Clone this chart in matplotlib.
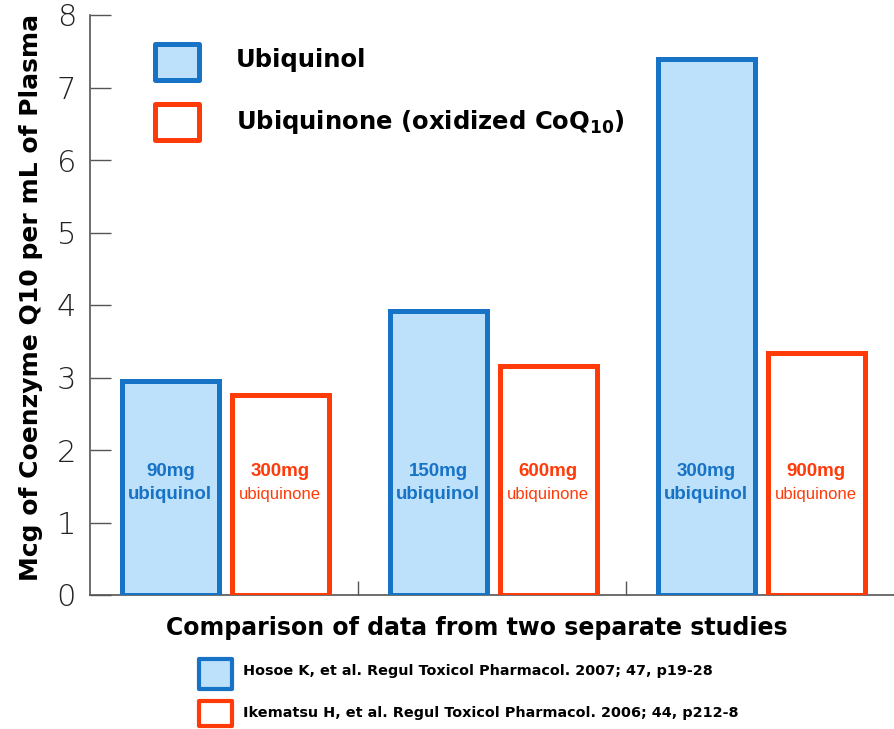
import matplotlib
matplotlib.use("Agg")
import matplotlib.pyplot as plt
from matplotlib.patches import Rectangle

# data
studies = ["Study 1", "Study 2", "Study 3"]
ubiquinol = [2.95, 3.92, 7.39]
ubiquinone = [2.76, 3.16, 3.34]
ubiquinol_dose = ["90mg", "150mg", "300mg"]
ubiquinone_dose = ["300mg", "600mg", "900mg"]
y_ticks = [0, 1, 2, 3, 4, 5, 6, 7, 8]

BLUE = "#1673c6"
BLUE_FILL = "#bde0fb"
RED = "#ff3b0a"

fig = plt.figure(figsize=(8.94, 7.29), dpi=100)
ax = fig.add_axes([90 / 894, 134 / 729, 804 / 894, 580 / 729])

x = list(range(len(studies)))
w = 0.36
x1 = [i + 0.30 for i in x]
x2 = [i + 0.71 for i in x]
ax.bar(x1, ubiquinol, width=w, color=BLUE_FILL, edgecolor=BLUE, linewidth=3.6,
       zorder=3, label="Ubiquinol")
ax.bar(x2, ubiquinone, width=w, color="white", edgecolor=RED, linewidth=3.6,
       zorder=3, label="Ubiquinone")

narrow = ["Liberation Sans", "DejaVu Sans"]
for xi, d in zip(x1, ubiquinol_dose):
    ax.text(xi, 1.70, d, ha="center", va="center", color=BLUE, fontsize=13.5,
            fontweight="bold", family=narrow)
    ax.text(xi, 1.38, "ubiquinol", ha="center", va="center", color=BLUE,
            fontsize=13.5, fontweight="bold", family=narrow)
for xi, d in zip(x2, ubiquinone_dose):
    ax.text(xi, 1.70, d, ha="center", va="center", color=RED, fontsize=13.5,
            fontweight="bold", family=narrow)
    ax.text(xi, 1.38, "ubiquinone", ha="center", va="center", color=RED,
            fontsize=12, family=narrow)

ax.set_xlim(0, 3)
ax.set_ylim(0, 8)
ax.set_yticks(y_ticks)
ax.set_yticklabels([str(t) for t in y_ticks], fontsize=22, family="DejaVu Sans",
                   fontweight="light", color="#222222")
ax.set_xticks([1, 2])
ax.set_xticklabels([])
ax.tick_params(axis="y", direction="in", length=15, width=1, color="#555555", pad=10)
ax.tick_params(axis="x", direction="in", length=10, width=1, color="#555555")
for s in ["top", "right"]:
    ax.spines[s].set_visible(False)
for s in ["left", "bottom"]:
    ax.spines[s].set_color("#555555")
    ax.spines[s].set_linewidth(1.2)

ax.set_ylabel("Mcg of Coenzyme Q10 per mL of Plasma", fontsize=18,
              fontweight="bold")
ax.yaxis.set_label_coords(-0.058, 0.513)
ax.set_xlabel("Comparison of data from two separate studies", fontsize=17,
              fontweight="bold")
ax.xaxis.set_label_coords(0.481, -0.037)
ax.xaxis.label.set_va("top")

# top legend
def box(x0, y0, wpx, hpx, fc, ec, lw):
    fig.add_artist(Rectangle((x0 / 894, 1 - (y0 + hpx) / 729), wpx / 894, hpx / 729,
                             transform=fig.transFigure, facecolor=fc, edgecolor=ec,
                             linewidth=lw, joinstyle="round", zorder=5))

box(155, 44, 44, 36, BLUE_FILL, BLUE, 3.6)
box(155, 104, 44, 36, "white", RED, 3.6)
fig.text(236 / 894, 1 - 60 / 729, "Ubiquinol", fontsize=17.5, fontweight="bold",
         va="center")
fig.text(236 / 894, 1 - 122 / 729, r"Ubiquinone (oxidized CoQ$_{\mathbf{10}}$)",
         fontsize=17.5, fontweight="bold", va="center")

# bottom source legend
box(199, 659, 33, 30, BLUE_FILL, BLUE, 3)
box(199, 701, 33, 25, "white", RED, 3)
fig.text(243 / 894, 1 - 671 / 729, "Hosoe K, et al. Regul Toxicol Pharmacol. 2007; 47, p19-28",
         fontsize=10.4, fontweight="bold", va="center")
fig.text(243 / 894, 1 - 713 / 729, "Ikematsu H, et al. Regul Toxicol Pharmacol. 2006; 44, p212-8",
         fontsize=10.4, fontweight="bold", va="center")

fig.savefig("out.png", dpi=100)
